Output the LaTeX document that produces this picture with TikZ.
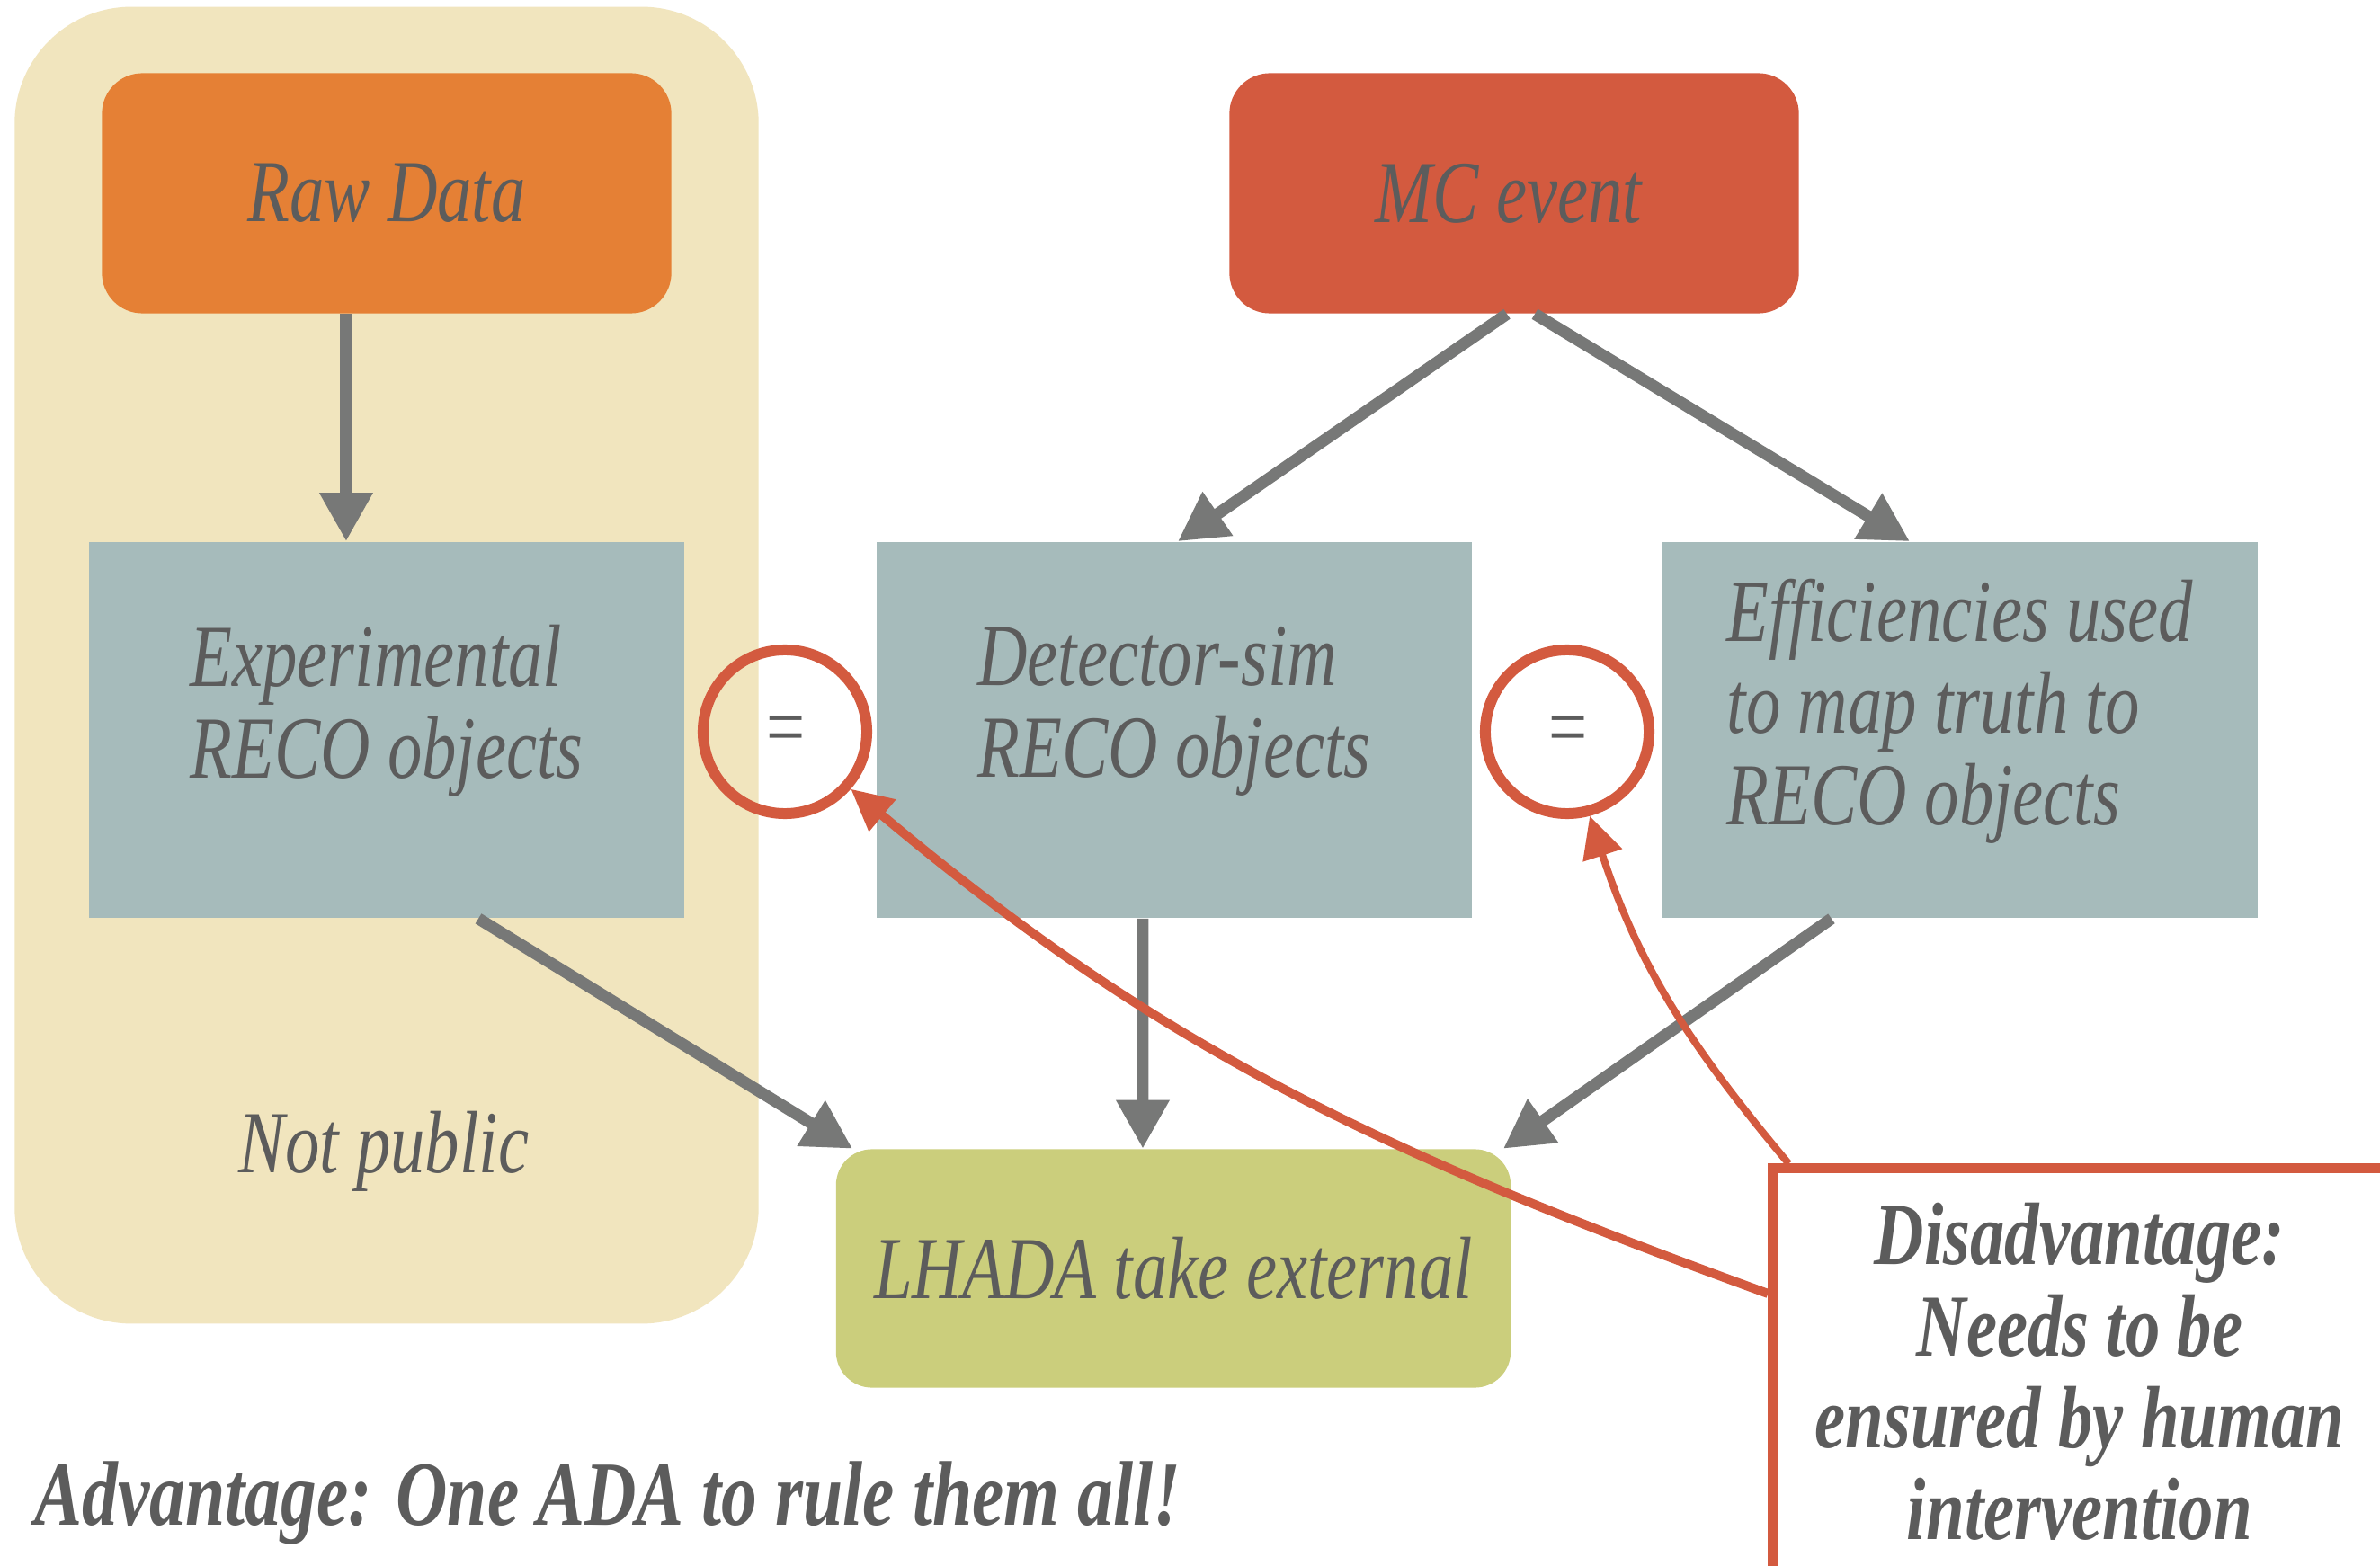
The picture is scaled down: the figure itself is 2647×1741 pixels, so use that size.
\documentclass[tikz,border=0pt]{standalone}
\usepackage{fontspec}
\setmainfont{Liberation Serif}[FakeStretch=0.78]
\usepackage{xcolor}
\usetikzlibrary{shapes.geometric, positioning, calc, arrows.meta}

\definecolor{notpub}{HTML}{F1E5BE}
\definecolor{rawor}{HTML}{E58035}
\definecolor{mcred}{HTML}{D35A3F}
\definecolor{recobl}{HTML}{A6BBBB}
\definecolor{lhgreen}{HTML}{CBCE7C}
\definecolor{txtgr}{HTML}{5C5C5C}
\definecolor{arrgr}{HTML}{777877}

\begin{document}
\begin{tikzpicture}[x=0.01cm, y=0.01cm,
    every node/.style={text=txtgr, font=\fontsize{28}{29}\selectfont\itshape},
    reco/.style={fill=recobl, minimum width=6.61cm, minimum height=4.18cm, inner sep=0pt},
    recotxt/.style={align=left, inner sep=0pt},
    headbox/.style={rounded corners=0.45cm, minimum width=6.33cm, minimum height=2.67cm, inner sep=0pt},
    eqcirc/.style={circle, draw=mcred, line width=0.12cm, minimum size=1.82cm, inner sep=0pt},
    flow/.style={draw=arrgr, line width=0.13cm, -{Triangle[length=0.54cm, width=0.56cm]}},
    hint/.style={draw=mcred, -{Triangle[length=0.46cm, width=0.44cm]}}]
  \fill[white] (0,0) rectangle (2647,1741);
  \clip (0,0) rectangle (2647,1741);

  % private side
  \node[fill=notpub, rounded corners=1.3cm, minimum width=8.27cm, minimum height=14.64cm] (priv) at (430,1001) {};
  \node (np) at (427,460) {Not public};

  % top row
  \node[headbox, fill=rawor] (raw) at (430,1526) {Raw Data};
  \node[headbox, fill=mcred] (mc) at (1684,1526) {\hspace*{-0.12cm}MC event};

  % reco objects
  \node[reco] (exp) at (430,929) {};
  \node[reco] (det) at (1306,929) {};
  \node[reco] (eff) at (2180,929) {};
  \node[recotxt] (expt) at ([yshift=0.21cm]exp.center) {Experimental\\RECO objects};
  \node[recotxt] (dett) at ([yshift=0.21cm]det.center) {Detector-sim\\RECO objects};
  \node[recotxt] (efft) at ([yshift=0.21cm]eff.center) {Efficiencies used\\to map truth to\\RECO objects};

  \node[eqcirc] (lc) at (873,927) {\raisebox{-0.12cm}[0.3cm][0pt]{=}};
  \node[eqcirc] (rc) at (1743,927) {\raisebox{-0.12cm}[0.3cm][0pt]{=}};

  % output
  \node[fill=lhgreen, rounded corners=0.4cm, minimum width=7.5cm, minimum height=2.65cm, inner sep=0pt] (lhada) at (1305,330) {LHADA take external};

  \node[draw=mcred, fill=white, line width=0.11cm, minimum width=6.82cm, minimum height=4.52cm, align=center,
        font=\fontsize{28}{29}\selectfont\bfseries\itshape] (dis) at (2313,215)
        {Disadvantage:\\Needs to be\\ensured by human\\intervention};
  \node[anchor=base west, font=\fontsize{29}{30}\selectfont\bfseries\itshape] (adv) at (26,45)
        {Advantage: One ADA to rule them all!};

  % flow arrows
  \draw[flow] ([xshift=-0.45cm]raw.south) -- ([xshift=-0.45cm]exp.north);
  \draw[flow] ([xshift=-0.08cm]mc.south) -- ([xshift=0.04cm]det.north);
  \draw[flow] ([xshift=0.23cm]mc.south) -- ([xshift=-0.56cm]eff.north);
  \draw[flow] ([xshift=1.02cm]exp.south) -- ([xshift=0.19cm]lhada.north west);
  \draw[flow] ([xshift=-0.35cm]det.south) -- ([xshift=-0.34cm]lhada.north);
  \draw[flow] ([xshift=-1.43cm]eff.south) -- ([xshift=-0.09cm]lhada.north east);

  % pointers to the equal signs
  \draw[hint, line width=0.1cm] ([yshift=0.87cm]dis.west) to[out=160, in=-40] (lc.-41);
  \draw[hint, line width=0.08cm] ([xshift=0.23cm]dis.north west) to[out=130, in=-72] (rc.-75);
\end{tikzpicture}
\end{document}
